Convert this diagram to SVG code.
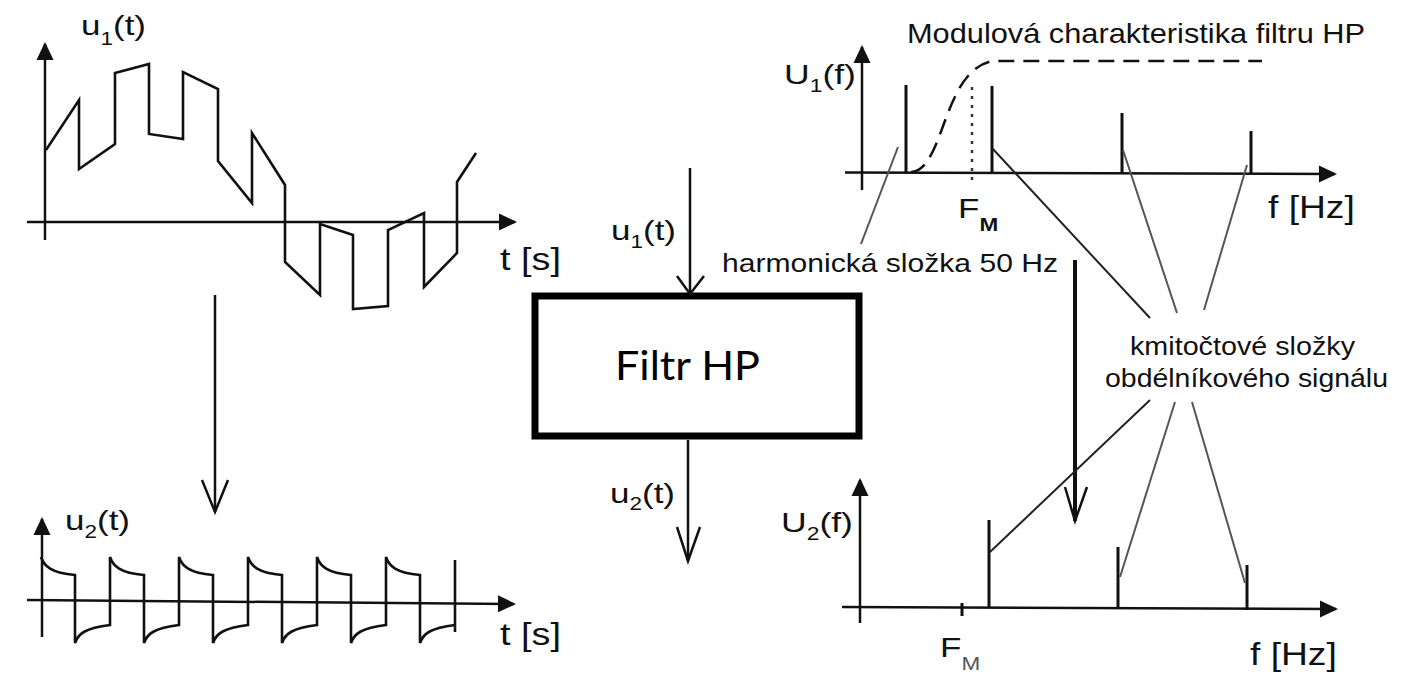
<svg xmlns="http://www.w3.org/2000/svg" width="1418" height="679" viewBox="0 0 1418 679">
<style>
.ax{stroke:#111;stroke-width:2.5;fill:none}
.wave{stroke:#111;stroke-width:2.6;fill:none;stroke-linejoin:miter}
.spec{stroke:#111;stroke-width:3}
.lead{stroke:#222;stroke-width:2;fill:none}
.leadg{stroke:#555;stroke-width:2;fill:none}
.vhead{stroke:#111;stroke-width:2.5;fill:none}
.flow{stroke:#111;stroke-width:2.5;fill:none}
.lbl{font-family:"Liberation Sans",Arial,Helvetica,sans-serif;font-size:28px;fill:#111}
.big{font-size:31px}
.sub{font-size:18px}
.sm{font-family:"Liberation Sans",Arial,Helvetica,sans-serif;font-size:26px;fill:#111}
.box{fill:#fff;stroke:#000;stroke-width:7}
.boxt{font-family:Lato,"Open Sans",sans-serif;font-size:40px;fill:#000}
</style>
<defs>
<marker id="axh" markerUnits="userSpaceOnUse" markerWidth="20" markerHeight="20" refX="16" refY="9" orient="auto">
<path d="M0,0.5 L18,9 L0,17.5 z" fill="#111"/>
</marker>
</defs>

<g id="time-u1">
<path class="ax" d="M45,240 V44" marker-end="url(#axh)"/>
<path class="ax" d="M27,222 H515" marker-end="url(#axh)"/>
<path class="wave" d="M46,150 L79,100 L79,169 L115,144 L115,73 L149,64 L149,134 L183,139 L183,72 L218,89 L218,161 L252,203 L252,133 L285,185 L285,262 L320,295 L320,224 L353,235 L353,309 L388,306 L388,230 L424,213 L424,287 L457,253 L457,182 L476,153"/>
<g transform="translate(81,35) scale(1.25,1)"><text class="lbl">u<tspan class="sub" dy="10">1</tspan><tspan dy="-10">(t)</tspan></text></g>
<g transform="translate(500,270) scale(1.22,1)"><text class="lbl big">t [s]</text></g>
</g>

<g id="time-u2">
<path class="ax" d="M42,637 V519" marker-end="url(#axh)"/>
<path class="ax" d="M27,600 L514,604" marker-end="url(#axh)"/>
<path class="wave" d="M41,557 C44,566 51,573 75,575 V643 C78,634 85,628 110,625 V557 C113,566 120,573 144,575 V643 C147,634 154,628 179,625 V557 C182,566 189,573 213,575 V643 C216,634 223,628 248,625 V557 C251,566 258,573 282,575 V643 C285,634 292,628 317,625 V557 C320,566 327,573 351,575 V643 C354,634 361,628 386,625 V557 C389,566 396,573 420,575 V643 C423,634 430,628 455,625"/>
<path class="wave" d="M455,560 V632"/>
<g transform="translate(65,530) scale(1.25,1)"><text class="lbl">u<tspan class="sub" dy="8">2</tspan><tspan dy="-8">(t)</tspan></text></g>
<g transform="translate(500,645) scale(1.22,1)"><text class="lbl big">t [s]</text></g>
</g>

<g id="filter">
<rect class="box" x="535" y="296" width="324" height="140"/>
<text class="boxt" x="615" y="380" textLength="145" lengthAdjust="spacingAndGlyphs">Filtr HP</text>
<g transform="translate(611,240) scale(1.25,1)"><text class="lbl">u<tspan class="sub" dy="8">1</tspan><tspan dy="-8">(t)</tspan></text></g>
<g transform="translate(610,503) scale(1.25,1)"><text class="lbl">u<tspan class="sub" dy="7">2</tspan><tspan dy="-7">(t)</tspan></text></g>
</g>

<g id="spectrum-u1">
<path class="ax" d="M862,190 V47" marker-end="url(#axh)"/>
<path class="ax" d="M845,172.5 L1335,174" marker-end="url(#axh)"/>
<line class="spec" x1="906" y1="85" x2="906" y2="172"/>
<line class="spec" x1="992" y1="86" x2="992" y2="173"/>
<line class="spec" x1="1122" y1="113" x2="1122" y2="173"/>
<line class="spec" x1="1251" y1="131" x2="1251" y2="174"/>
<path d="M911,172 C945,170 942,70 993,61 L1262,61" fill="none" stroke="#111" stroke-width="2.5" stroke-dasharray="16 9"/>
<line x1="972" y1="87" x2="972" y2="182" stroke="#333" stroke-width="2.5" stroke-dasharray="3 6"/>
<g transform="translate(784,84) scale(1.27,1)"><text class="lbl">U<tspan class="sub" dy="8">1</tspan><tspan dy="-8">(f)</tspan></text></g>
<g transform="translate(958,218) scale(1.25,1)"><text class="lbl" font-size="26">F<tspan class="sub" font-size="15" font-weight="bold" dy="13">M</tspan></text></g>
<g transform="translate(1268,218) scale(1.2,1)"><text class="lbl big">f [Hz]</text></g>
<text class="lbl" x="907" y="43" textLength="458" lengthAdjust="spacingAndGlyphs">Modulová charakteristika filtru HP</text>
</g>

<g id="spectrum-u2">
<path class="ax" d="M860,623 V480" marker-end="url(#axh)"/>
<path class="ax" d="M842,607 L1336,609" marker-end="url(#axh)"/>
<line class="spec" x1="989" y1="520" x2="989" y2="608"/>
<line class="spec" x1="1118" y1="547" x2="1118" y2="609"/>
<line class="spec" x1="1247" y1="565" x2="1247" y2="610"/>
<line class="spec" x1="962" y1="603" x2="962" y2="616"/>
<g transform="translate(781,532) scale(1.27,1)"><text class="lbl">U<tspan class="sub" dy="8">2</tspan><tspan dy="-8">(f)</tspan></text></g>
<g transform="translate(940,657) scale(1.25,1)"><text class="lbl" font-size="26">F<tspan class="sub" font-size="15" fill="#555" dy="13">M</tspan></text></g>
<g transform="translate(1250,665) scale(1.2,1)"><text class="lbl big">f [Hz]</text></g>
</g>

<g id="annotations">
<text class="sm" x="722" y="272" textLength="336" lengthAdjust="spacingAndGlyphs">harmonická složka 50 Hz</text>
<text class="sm" x="1130" y="355" textLength="225" lengthAdjust="spacingAndGlyphs">kmitočtové složky</text>
<text class="sm" x="1105" y="387" textLength="283" lengthAdjust="spacingAndGlyphs">obdélníkového signálu</text>
</g>

<g id="connectors">
<line class="flow" x1="215" y1="295" x2="215" y2="512"/>
<polyline class="vhead" points="202,480 215,512 228,480"/>
<line class="flow" x1="690" y1="168" x2="690" y2="294"/>
<polyline class="vhead" points="677,276 690,294 704,276"/>
<line class="flow" x1="688" y1="440" x2="688" y2="561"/>
<polyline class="vhead" points="677,527 688,561 700,527"/>
<line x1="1075" y1="260" x2="1075" y2="521" stroke="#111" stroke-width="4"/>
<polyline class="vhead" points="1065,487 1075,521 1087,487" stroke-width="3"/>
<line class="leadg" x1="898" y1="147" x2="861" y2="244"/>
<line class="lead" x1="992" y1="148" x2="1150" y2="318"/>
<line class="leadg" x1="1123" y1="150" x2="1177" y2="313"/>
<line class="leadg" x1="1247" y1="165" x2="1204" y2="310"/>
<line class="lead" x1="990" y1="552" x2="1150" y2="400"/>
<line class="leadg" x1="1120" y1="577" x2="1175" y2="402"/>
<line class="leadg" x1="1245" y1="583" x2="1192" y2="402"/>
</g>
</svg>
